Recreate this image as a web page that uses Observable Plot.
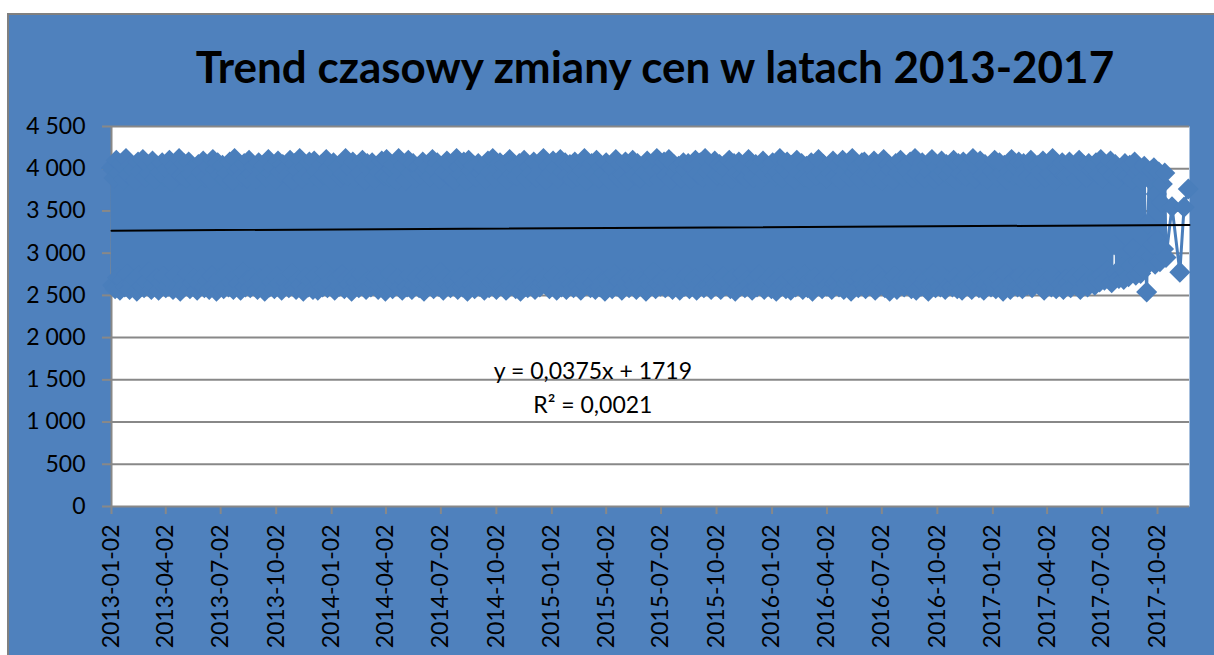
<!DOCTYPE html>
<html><head><meta charset="utf-8">
<script src="https://cdn.jsdelivr.net/npm/d3@7"></script>
<script src="https://cdn.jsdelivr.net/npm/@observablehq/plot@0.6"></script>
<style>
html,body{margin:0;padding:0;background:#fff;overflow:hidden;width:1214px;height:655px;}
#box{position:absolute;left:7px;top:13px;width:1240px;height:680px;background:#4F81BD;border-top:2px solid #808080;border-left:2px solid #808080;overflow:hidden;font-family:Lato,sans-serif;}
#title{position:absolute;left:0;top:27px;width:1292px;text-align:center;font:bold 44px/48px Lato,sans-serif;color:#000;white-space:nowrap;}
#chart{position:absolute;left:0;top:100px;}
</style></head><body>
<div id="box"><div id="title">Trend czasowy zmiany cen w latach 2013-2017</div><div id="chart"></div></div>
<script>
// ---- data ----
const gridStart = "2013-01-02";
const gridStepDays = 2;
const prices = [
4010,2620,3890,2580,4100,2710,3950,2560,4060,2680,3870,2600,4120,2750,3930,2570,4040,2640,3990,2690,3860,2550,4080,2730,
3970,2610,4110,2590,3900,2660,4050,2780,3940,2570,4090,2630,3880,2700,4020,2560,3960,2650,4070,2720,3910,2590,4000,2610,
4100,2680,3850,2570,4030,2740,3980,2600,4120,2550,3920,2690,4060,2620,3890,2760,4080,2580,3940,2650,4010,2700,3870,2560,
4050,2630,3960,2710,4090,2590,3900,2670,4020,2570,3870,2730,4110,2610,3990,2550,4070,2690,3930,2620,4040,2580,3880,2750,
3950,2600,4080,2660,3860,2570,4120,2720,3970,2640,4010,2560,3910,2780,4060,2600,3890,2680,4100,2590,3940,2710,4030,2630,
3880,2570,4070,2690,3990,2620,4040,2550,3900,2740,4110,2600,3950,2660,4020,2580,3870,2720,4090,2640,3960,2560,4050,2700,
4000,2650,3920,2590,4100,2760,3860,2610,4060,2570,3980,2690,4120,2630,3890,2550,4030,2710,3940,2600,4080,2680,3910,2570,
4090,2720,3970,2560,3880,2640,4050,2600,3930,2780,4110,2590,4000,2670,3870,2620,4070,2560,3960,2700,4020,2610,3900,2740,
3940,2580,4120,2690,3910,2630,4010,2550,4080,2710,3890,2660,4040,2590,3950,2750,4100,2620,3870,2570,4060,2680,3990,2600,
4070,2640,3880,2720,4030,2570,3960,2610,4090,2690,3920,2550,4110,2630,3900,2760,4000,2580,4050,2650,3860,2700,4120,2590,
3980,2560,4040,2680,3870,2600,4100,2740,3950,2570,4060,2620,3890,2710,4020,2590,3930,2660,4080,2550,3970,2730,4010,2640,
3900,2690,4110,2580,3990,2650,4070,2610,3880,2770,4030,2560,3960,2700,4090,2630,3910,2590,4050,2680,3870,2620,4120,2570,
4020,2710,3930,2600,4080,2640,3860,2550,4100,2690,3970,2620,4040,2580,3900,2750,4060,2610,3950,2670,4010,2560,3880,2720,
4090,2590,3960,2650,4120,2700,3890,2570,4000,2630,4070,2740,3920,2600,4050,2560,3870,2680,4110,2620,3940,2710,4030,2580,
3910,2660,4060,2550,3980,2720,4100,2610,3880,2590,4020,2690,3950,2640,4080,2570,3900,2760,4040,2600,3990,2650,4120,2700,
3870,2620,4030,2580,3940,2670,4090,2730,4010,2560,3890,2650,4110,2600,3960,2710,4070,2570,3920,2690,4050,2630,3880,2590,
4080,2740,3910,2610,4040,2560,3970,2680,4120,2620,3860,2700,4000,2590,4060,2650,3930,2570,4100,2720,3890,2600,4020,2660,
3950,2550,4070,2690,3880,2630,4020,2580,3990,2750,4110,2610,3900,2670,4050,2560,3940,2710,4080,2640,3870,2590,4030,2700,
4100,2620,3930,2570,4060,2720,3890,2660,4010,2600,3960,2550,4090,2690,3910,2630,4040,2770,3980,2580,4120,2650,3870,2610,
4000,2680,4080,2590,3920,2640,4110,2710,3870,2570,4050,2620,3950,2700,4030,2560,3890,2660,4070,2610,3990,2740,4060,2580,
3880,2650,4020,2700,4100,2560,3940,2630,4070,2680,3900,2590,4120,2750,3970,2610,4010,2570,3860,2690,4090,2640,3930,2600,
4050,2570,3910,2720,4040,2620,3980,2660,4100,2580,3880,2700,4060,2550,3950,2640,4080,2610,3920,2760,4020,2590,3890,2680,
4110,2630,3970,2560,3900,2690,4050,2600,4010,2740,3870,2620,4090,2570,3940,2670,4030,2710,3990,2580,4070,2650,3910,2550,
3960,2700,4120,2610,3890,2640,4000,2580,4080,2690,3930,2560,4040,2720,3870,2600,4100,2660,3950,2630,4060,2570,3900,2740,
4030,2590,3880,2680,4070,2550,3990,2710,3920,2620,4110,2650,3960,2580,4050,2700,3890,2610,4020,2760,3940,2570,4090,2640,
3910,2660,4040,2600,3870,2730,4100,2570,3980,2640,4060,2690,3900,2550,4120,2620,3950,2680,4010,2590,3880,2710,4070,2630,
4080,2580,3930,2650,4020,2700,3890,2610,4090,2560,3970,2740,4040,2630,3860,2670,4110,2590,3920,2620,4050,2550,3990,2690,
3870,2720,4060,2570,3950,2640,4100,2680,3910,2600,4030,2650,3980,2710,4080,2580,3900,2630,4120,2560,3940,2700,4010,2610,
4070,2640,3890,2690,4040,2550,3960,2620,4110,2750,3880,2590,4020,2660,3930,2600,4090,2720,3970,2570,4050,2680,3920,2630,
3990,2600,4100,2710,3870,2580,4060,2650,3940,2560,4080,2690,3910,2740,4030,2610,3960,2570,4120,2640,3890,2660,4000,2590,
4090,2680,3920,2560,4050,2630,3880,2720,4010,2600,3970,2650,4100,2580,3900,2700,4070,2620,3950,2550,4040,2760,3870,2610,
3960,2570,4110,2640,3930,2690,4020,2600,4080,2730,3890,2580,4060,2660,3980,2620,3910,2710,4100,2590,4030,2650,3880,2700,
4040,2620,3970,2700,4090,2560,3900,2680,4050,2640,3940,2600,4120,2720,3870,2580,4010,2660,3990,2630,4070,2570,3920,2690,
3910,2650,4080,2590,3950,2710,4030,2620,3880,2680,4100,2570,3960,2740,4040,2640,3900,2600,4060,2690,3980,2660,4010,2620,
4070,2700,3930,2660,4110,2740,3890,2680,4020,2790,3970,2720,4090,2650,3920,3100,4050,2760,3880,2700,4000,2830,3940,2690,
4060,2780,3910,2720,4040,2850,3870,3050,4080,2740,3950,2900,3990,2760,3860,2810,4030,3000,2540,3350,3880,2960,3980,3100,
4010,2870,3700,3150,3960,2900,3600,3820,3050,3950,2950
];
const tailDates = ["2017-10-26","2017-11-08","2017-11-15","2017-11-22"];
const tailPrices = [3550,2775,3545,3760];
const xStart = "2013-01-02", xEnd = "2017-11-24";
const xTicks = ["2013-01-02","2013-04-02","2013-07-02","2013-10-02","2014-01-02","2014-04-02","2014-07-02","2014-10-02",
"2015-01-02","2015-04-02","2015-07-02","2015-10-02","2016-01-02","2016-04-02","2016-07-02","2016-10-02",
"2017-01-02","2017-04-02","2017-07-02","2017-10-02"];
const yTicks = [0,500,1000,1500,2000,2500,3000,3500,4000,4500];
const trendSlope = 0.0375, trendIntercept = 1719;
const eqText = ["y = 0,0375x + 1719", "R² = 0,0021"];
const eqDate = "2015-03-11";
const eqValues = [1600, 1200];

// ---- build ----
const parse = d3.utcParse("%Y-%m-%d");
const series = prices.map((v, i) => ({date: d3.utcDay.offset(parse(gridStart), i * gridStepDays), value: v}))
  .concat(tailDates.map((d, i) => ({date: parse(d), value: tailPrices[i]})));
const excelSerial = d => (d - Date.UTC(1899, 11, 30)) / 864e5;
const trend = [parse(xStart), parse(xEnd)].map(d => ({date: d, value: trendSlope * excelSerial(d) + trendIntercept}));
const eq = eqText.map((t, i) => ({date: parse(eqDate), value: eqValues[i], text: t}));
const fmt = d3.formatLocale({thousands: " ", grouping: [3], decimal: ",", currency: ["", ""]}).format(",");
const grey = "#888888", blue = "#4A7EBB";

const chart = Plot.plot({
  width: 1205, height: 540,
  marginTop: 11, marginBottom: 149, marginLeft: 102, marginRight: 25,
  style: {background: "transparent", fontFamily: "Lato, sans-serif", fontSize: "23px", color: "black", overflow: "visible"},
  x: {type: "utc", domain: [parse(xStart), parse(xEnd)], label: null},
  y: {domain: [0, 4500], label: null},
  marks: [
    Plot.frame({fill: "white", stroke: null}),
    Plot.gridY(yTicks, {stroke: grey, strokeOpacity: 1, strokeWidth: 2}),
    Plot.ruleX([parse(xStart)], {stroke: grey, strokeWidth: 2}),
    Plot.axisY(yTicks, {label: null, tickSize: 9, tickPadding: 17, tickFormat: fmt, stroke: grey, strokeWidth: 2, fill: "black", fontSize: 23}),
    Plot.axisX(xTicks.map(parse), {label: null, tickSize: 8, tickPadding: 10, tickRotate: -90, tickFormat: d3.utcFormat("%Y-%m-%d"), stroke: grey, strokeWidth: 2, fill: "black", fontSize: 23}),
    Plot.line(series, {x: "date", y: "value", stroke: blue, strokeWidth: 3}),
    Plot.dot(series, {x: "date", y: "value", symbol: "diamond2", r: 9.5, fill: blue, stroke: null}),
    Plot.line(trend, {x: "date", y: "value", stroke: "black", strokeWidth: 2}),
    Plot.text(eq, {x: "date", y: "value", text: "text", fill: "black", fontSize: 23, textAnchor: "middle", lineAnchor: "middle"})
  ]
});
document.getElementById("chart").appendChild(chart);
</script></body></html>
